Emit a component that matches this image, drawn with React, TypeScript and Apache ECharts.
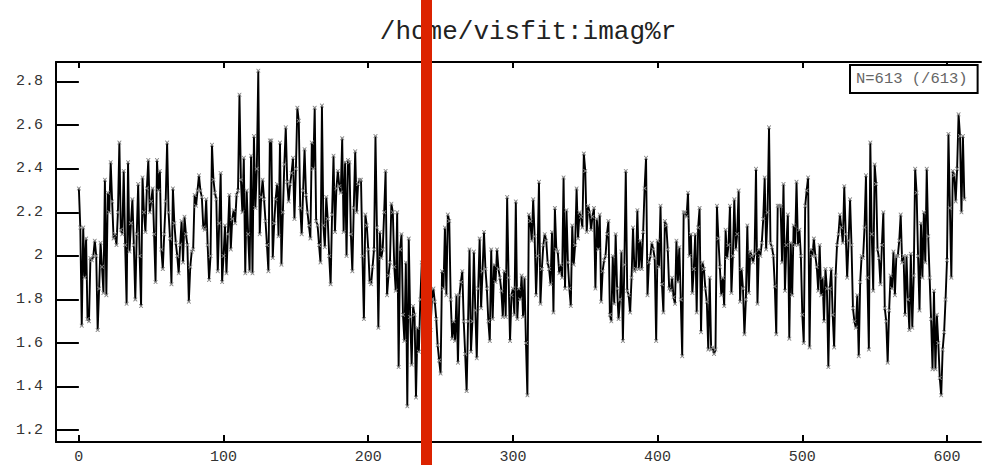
import React, { useEffect, useRef } from "react";
import * as echarts from "echarts";

const titleText = "/home/visfit:imag%r";
const legendLabel = "N=613 (/613)";
const xTicks = [0, 100, 200, 300, 400, 500, 600];
const yTicks = [1.2, 1.4, 1.6, 1.8, 2, 2.2, 2.4, 2.6, 2.8];

const values = [
  2.31, 2.13, 1.68, 2.13, 1.90, 2.08, 1.71, 1.70, 1.99, 1.98,
  2.00, 2.07, 2.00, 1.66, 1.85, 2.06, 1.95, 1.83, 2.35, 1.82,
  2.29, 2.20, 2.43, 2.25, 2.08, 2.10, 2.05, 2.20, 2.52, 2.12,
  2.10, 2.39, 2.05, 1.78, 2.43, 2.02, 2.15, 2.26, 2.05, 1.80,
  2.10, 2.33, 2.00, 1.77, 2.36, 2.20, 2.11, 2.31, 2.44, 2.20,
  2.25, 2.31, 2.10, 1.88, 2.44, 2.30, 2.39, 2.03, 1.94, 2.10,
  2.25, 2.52, 2.20, 2.08, 1.87, 2.31, 2.15, 2.06, 2.00, 1.92,
  2.05, 2.16, 1.97, 2.18, 2.10, 2.05, 1.79, 1.95, 2.02, 2.03,
  2.28, 2.23, 2.30, 2.37, 2.30, 2.27, 2.13, 2.12, 2.26, 2.05,
  1.89, 2.00, 2.51, 2.35, 2.29, 2.26, 1.93, 2.15, 2.38, 1.88,
  2.00, 2.14, 1.92, 2.10, 2.28, 2.03, 2.17, 2.21, 2.15, 2.28,
  2.30, 2.74, 2.35, 2.20, 2.45, 1.92, 2.30, 2.10, 1.93, 2.46,
  1.92, 2.55, 2.22, 2.40, 2.85, 2.10, 2.27, 2.35, 2.26, 2.16,
  2.05, 1.93, 2.53, 2.53, 1.99, 2.15, 2.26, 2.33, 2.09, 2.52,
  1.96, 2.20, 2.42, 2.59, 2.34, 2.25, 2.33, 2.38, 2.45, 2.17,
  2.40, 2.68, 2.62, 2.22, 2.10, 2.30, 2.49, 2.28, 2.20, 2.14,
  2.08, 2.52, 2.40, 2.68, 2.16, 2.14, 2.05, 1.97, 2.69, 2.14,
  2.04, 2.27, 2.17, 2.00, 1.87, 2.19, 2.46, 2.11, 2.31, 2.39,
  2.32, 2.29, 2.54, 2.11, 2.43, 2.00, 2.44, 2.43, 2.10, 1.93,
  2.22, 2.48, 2.20, 2.33, 2.35, 2.35, 2.00, 1.71, 2.19, 2.14,
  2.03, 1.88, 1.87, 1.95, 2.03, 2.55, 2.13, 1.67, 2.11, 1.99,
  2.03, 2.20, 2.39, 1.82, 1.91, 1.97, 2.24, 2.20, 1.95, 1.84,
  2.20, 1.49, 2.03, 2.10, 1.73, 1.61, 1.97, 1.31, 2.08, 1.72,
  1.50, 1.77, 1.73, 1.35, 1.67, 1.56, 1.80, 1.97, 1.75, 1.62,
  1.85, 1.70, 1.78, 1.66, 1.80, 1.85, 1.79, 1.71, 1.59, 1.52,
  1.46, 1.93, 1.85, 2.13, 1.82, 2.19, 2.16, 1.80, 1.62, 1.70,
  1.61, 1.82, 1.51, 1.82, 1.88, 1.93, 1.70, 1.55, 1.38, 1.70,
  2.03, 1.56, 1.70, 2.02, 1.75, 1.53, 1.85, 2.08, 1.76, 1.93,
  2.11, 1.94, 1.85, 1.70, 1.61, 2.03, 1.71, 1.96, 1.88, 2.03,
  1.94, 1.90, 1.84, 1.72, 1.93, 1.72, 2.27, 1.90, 1.61, 1.82,
  1.85, 1.73, 2.25, 1.71, 1.85, 1.80, 1.91, 1.72, 1.90, 1.60,
  1.36, 2.19, 2.16, 2.07, 2.26, 2.09, 1.82, 2.00, 2.34, 1.78,
  1.94, 2.05, 2.10, 2.07, 1.97, 1.94, 1.87, 2.11, 1.74, 2.22,
  2.03, 2.02, 1.92, 1.96, 1.90, 2.36, 1.85, 2.21, 1.97, 1.85,
  1.77, 2.14, 1.96, 2.05, 2.31, 2.08, 2.20, 2.18, 2.13, 2.47,
  2.39, 2.11, 2.23, 2.20, 2.12, 2.18, 2.22, 1.85, 2.17, 2.03,
  2.19, 1.79, 1.93, 1.98, 2.00, 2.10, 2.16, 1.73, 1.70, 2.00,
  1.78, 2.10, 1.85, 1.71, 1.80, 2.02, 1.61, 1.96, 2.39, 1.84,
  1.82, 1.74, 1.90, 2.13, 1.93, 1.94, 2.21, 1.94, 2.07, 1.94,
  2.11, 2.31, 2.45, 1.82, 1.97, 2.00, 2.06, 2.03, 1.99, 1.61,
  2.07, 1.95, 2.23, 1.87, 1.74, 2.16, 2.14, 2.03, 1.85, 1.84,
  1.90, 1.81, 1.78, 2.07, 1.88, 2.04, 1.80, 1.54, 2.20, 2.20,
  2.18, 2.29, 2.00, 2.10, 1.83, 1.94, 2.10, 1.74, 2.13, 2.22,
  1.65, 1.97, 1.94, 1.85, 1.79, 1.57, 1.90, 1.57, 1.58, 1.55,
  1.57, 2.23, 2.08, 1.95, 1.82, 1.90, 1.77, 2.12, 1.99, 2.05,
  2.23, 1.83, 2.00, 2.26, 2.03, 2.10, 2.30, 1.79, 1.94, 1.85,
  1.64, 1.80, 2.14, 1.83, 2.02, 2.00, 1.97, 2.01, 2.40, 1.78,
  2.03, 2.00, 2.06, 2.17, 2.36, 2.03, 2.20, 2.59, 2.06, 2.04,
  2.00, 1.86, 1.64, 2.23, 2.23, 2.23, 1.97, 2.33, 1.84, 2.05,
  2.19, 1.62, 2.06, 1.82, 2.14, 2.05, 2.34, 2.05, 2.12, 2.00,
  1.73, 1.60, 2.23, 2.30, 2.36, 1.58, 2.03, 2.00, 2.08, 2.00,
  1.95, 1.84, 2.05, 1.82, 1.90, 1.70, 1.94, 1.85, 1.49, 1.85,
  1.94, 1.73, 1.58, 1.91, 2.05, 2.10, 2.19, 2.13, 2.06, 2.32,
  2.10, 1.90, 2.07, 2.26, 2.05, 1.76, 1.70, 1.67, 1.82, 1.54,
  1.88, 2.00, 1.99, 2.13, 2.37, 1.90, 1.57, 2.52, 2.10, 1.84,
  2.42, 2.33, 2.03, 1.99, 1.87, 2.05, 2.20, 1.76, 1.70, 1.51,
  1.75, 1.91, 1.85, 2.02, 1.82, 2.00, 2.00, 2.07, 2.19, 1.97,
  2.00, 1.73, 2.00, 1.80, 1.66, 2.01, 1.67, 1.91, 2.40, 2.29,
  2.00, 1.75, 2.15, 1.90, 2.20, 1.97, 2.40, 2.09, 1.90, 1.71,
  1.48, 1.84, 1.48, 1.73, 1.60, 1.44, 1.36, 1.57, 1.65, 1.80,
  1.98, 2.56, 2.22, 1.90, 2.39, 2.37, 2.25, 2.40, 2.65, 2.55,
  2.20, 2.55, 2.26,
];

const MONO = "'Liberation Mono', 'DejaVu Sans Mono', monospace";
const X_SYMBOL =
  "path://M0,0 L1.6,0 L5,3.4 L8.4,0 L10,0 L10,1.6 L6.6,5 L10,8.4 L10,10 L8.4,10 L5,6.6 L1.6,10 L0,10 L0,8.4 L3.4,5 L0,1.6 Z";

export default function App() {
  const ref = useRef<HTMLDivElement>(null);

  useEffect(() => {
    if (!ref.current) return;
    const chart = echarts.init(ref.current, undefined, { renderer: "svg" });
    const axisLine = { show: true, onZero: false, lineStyle: { color: "#000", width: 2 } };
    const labelStyle = { color: "#333", fontFamily: MONO, fontSize: 15 };
    const fmt = (v: number) => String(Math.round(v * 10) / 10);

    chart.setOption({
      animation: false,
      backgroundColor: "#fff",
      title: {
        text: titleText,
        left: 523,
        top: 14,
        textAlign: "center",
        textStyle: { fontFamily: MONO, fontSize: 26, fontWeight: "normal", color: "#222" },
      },
      legend: {
        data: [{ name: legendLabel, icon: "rect" }],
        left: 850,
        top: 65,
        itemWidth: 0,
        itemHeight: 0,
        padding: [6, 10, 6, 1],
        borderColor: "#000",
        borderWidth: 2,
        backgroundColor: "#fff",
        selectedMode: false,
        textStyle: { fontFamily: MONO, fontSize: 15.5, color: "#666" },
      },
      grid: { left: 56, right: 3, top: 62, bottom: 23 },
      xAxis: [
        {
          type: "value",
          position: "bottom",
          min: -15.8,
          max: 623.5,
          axisLine,
          splitLine: { show: false },
          axisTick: { inside: true, length: 7, customValues: xTicks, lineStyle: { color: "#000", width: 2 } },
          axisLabel: { ...labelStyle, margin: 8, customValues: xTicks, formatter: fmt },
        },
        {
          type: "value",
          position: "top",
          min: -15.8,
          max: 623.5,
          axisLine,
          splitLine: { show: false },
          axisTick: { inside: true, length: 6, customValues: xTicks, lineStyle: { color: "#000", width: 2 } },
          axisLabel: { show: false },
        },
      ],
      yAxis: [
        {
          type: "value",
          position: "left",
          min: 1.146,
          max: 2.89,
          axisLine,
          splitLine: { show: false },
          axisTick: { inside: true, length: 15, customValues: yTicks, lineStyle: { color: "#000", width: 2 } },
          axisLabel: { ...labelStyle, margin: 13, customValues: yTicks, formatter: fmt },
        },
        {
          type: "value",
          position: "right",
          min: 1.146,
          max: 2.89,
          axisLine: { show: false },
          splitLine: { show: false },
          axisTick: { inside: true, length: 13, customValues: yTicks, lineStyle: { color: "#000", width: 2 } },
          axisLabel: { show: false },
        },
      ],
      series: [
        {
          name: legendLabel,
          type: "line",
          xAxisIndex: 0,
          yAxisIndex: 0,
          data: values.map((v, i) => [i, v]),
          showAllSymbol: true,
          symbol: X_SYMBOL,
          symbolSize: 4,
          itemStyle: { color: "#888" },
          lineStyle: { color: "#000", width: 1.9 },
          emphasis: { disabled: true },
        },
      ],
      graphic: [
        {
          type: "rect",
          z: 100,
          shape: { x: 421, y: 0, width: 11, height: 465 },
          style: { fill: "#dc2300" },
        },
      ],
    });

    return () => chart.dispose();
  }, []);

  return (
    <div
      ref={ref}
      style={{ position: "fixed", left: 0, top: 0, width: 984, height: 465, background: "#fff" }}
    />
  );
}
